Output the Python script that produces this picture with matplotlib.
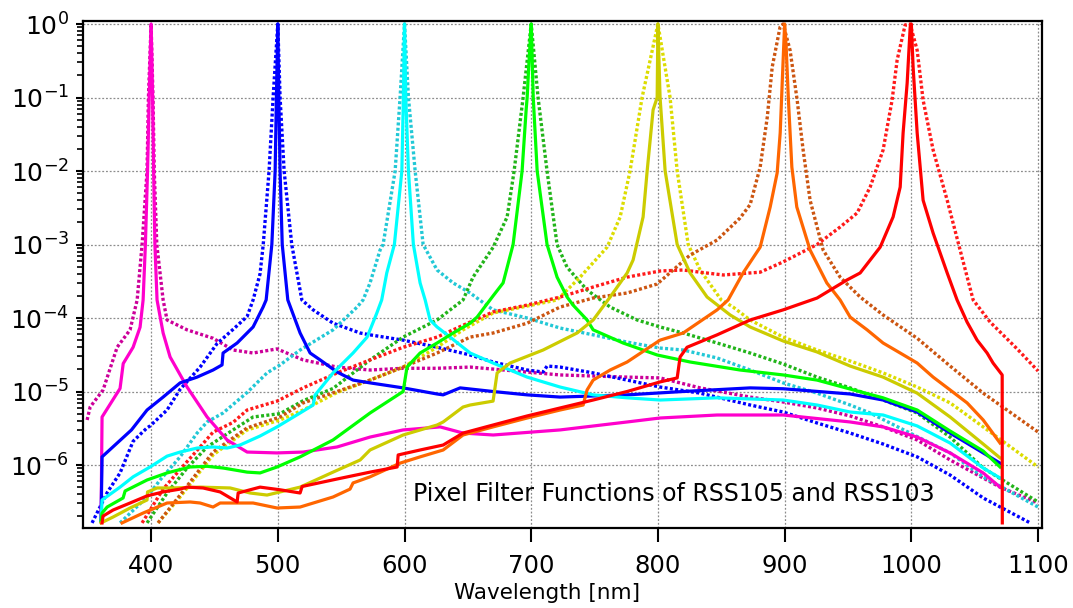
#!/usr/bin/env python3

# Pixel filter functions of RSS105 (solid) and RSS103 (dotted),
# read off the reference picture: (wavelength [nm], transmission) pairs.
import matplotlib
matplotlib.use("Agg")
import matplotlib.pyplot as plt
from matplotlib.ticker import LogLocator, NullFormatter

# --- RSS105 (solid lines) ---
m105 = [(360.5, 1.7e-7), (361.3, 4.5e-6), (375.5, 1.1e-5), (378.0, 2.4e-5), (385.8, 4.0e-5),
        (391.3, 7.5e-5), (393.7, 1.76e-4), (395.5, 1.0e-3), (397.2, 1.0e-2), (398.5, 0.1),
        (400.0, 1.0), (401.2, 0.1), (402.0, 1.0e-2), (403.0, 1.0e-3), (404.7, 1.76e-4),
        (409.5, 6.25e-5), (415.0, 2.95e-5), (428.4, 1.15e-5), (444.2, 4.5e-6), (460.0, 2.19e-6),
        (475.8, 1.5e-6), (499.4, 1.46e-6), (520.0, 1.5e-6), (546.8, 1.76e-6), (572.8, 2.4e-6),
        (598.9, 3.0e-6), (628.1, 3.3e-6), (646.2, 2.72e-6), (670.0, 2.56e-6), (722.8, 3.0e-6),
        (775.7, 3.85e-6), (801.7, 4.36e-6), (846.7, 4.79e-6), (898.8, 4.79e-6), (951.7, 3.85e-6),
        (977.7, 3.3e-6), (1004.6, 2.4e-6), (1030.6, 1.46e-6), (1056.7, 7.8e-7), (1070.0, 5.0e-7)]

b105 = [(360.5, 1.7e-7), (361.3, 1.29e-6), (384.5, 3.0e-6), (396.8, 5.6e-6), (409.5, 8.4e-6),
        (422.9, 1.31e-5), (436.3, 1.57e-5), (448.9, 1.96e-5), (456.0, 2.3e-5), (456.8, 3.34e-5),
        (467.9, 4.57e-5), (480.5, 7.55e-5), (488.4, 1.41e-4), (490.8, 1.76e-4), (495.3, 1.0e-3),
        (497.9, 1.0e-2), (498.9, 0.1), (500.0, 1.0), (500.8, 0.1), (501.8, 1.0e-2),
        (503.5, 1.0e-3), (507.9, 1.76e-4), (517.6, 6.25e-5), (525.5, 3.34e-5), (533.4, 2.69e-5),
        (546.8, 1.84e-5), (559.4, 1.43e-5), (572.8, 1.31e-5), (598.9, 1.12e-5), (625.7, 9.25e-6),
        (630.5, 9.0e-6), (643.9, 1.12e-5), (669.9, 1.0e-5), (696.8, 9.0e-6), (722.8, 8.4e-6),
        (775.7, 9.0e-6), (819.9, 1.0e-5), (872.8, 1.12e-5), (898.8, 1.09e-5), (951.7, 9.25e-6),
        (977.7, 7.66e-6), (1004.6, 5.26e-6), (1030.6, 2.72e-6), (1056.7, 1.46e-6), (1070.0, 1.06e-6)]

c105 = [(360.5, 1.7e-7), (361.3, 3.34e-7), (375.5, 5.0e-7), (385.8, 6.9e-7), (399.2, 9.4e-7),
        (412.6, 1.32e-6), (422.9, 1.5e-6), (436.3, 1.7e-6), (448.9, 1.76e-6), (460.0, 1.7e-6),
        (470.2, 1.87e-6), (486.0, 2.48e-6), (499.4, 3.3e-6), (517.6, 5.1e-6), (527.9, 6.55e-6),
        (529.4, 8.95e-6), (543.6, 1.79e-5), (559.4, 3.34e-5), (570.5, 5.5e-5), (578.0, 1.15e-4),
        (582.0, 1.76e-4), (586.0, 4.1e-4), (592.0, 1.0e-3), (597.9, 1.0e-2), (599.1, 0.1),
        (600.0, 1.0), (601.0, 0.1), (603.1, 1.0e-2), (607.0, 1.0e-3), (612.3, 3.0e-4),
        (616.3, 1.76e-4), (620.2, 9.4e-5), (625.7, 7.55e-5), (636.0, 5.5e-5), (651.8, 3.34e-5),
        (669.9, 2.44e-5), (696.8, 1.57e-5), (722.8, 1.15e-5), (748.9, 9.0e-6), (775.7, 8.2e-6),
        (801.7, 7.66e-6), (846.7, 8.2e-6), (898.8, 7.66e-6), (925.6, 6.55e-6), (951.7, 5.26e-6),
        (977.7, 4.79e-6), (1004.6, 3.4e-6), (1030.6, 1.99e-6), (1056.7, 9.1e-7), (1070.0, 6.65e-7)]

g105 = [(360.5, 1.7e-7), (361.3, 2.22e-7), (365.3, 2.68e-7), (377.9, 3.56e-7), (379.5, 4.43e-7),
        (396.8, 6.25e-7), (412.6, 7.8e-7), (430.8, 9.4e-7), (444.2, 9.6e-7), (456.8, 9.1e-7),
        (475.8, 8.0e-7), (486.0, 7.8e-7), (499.4, 9.4e-7), (517.6, 1.29e-6), (543.6, 2.19e-6),
        (572.8, 5.1e-6), (598.9, 1.0e-5), (602.0, 2.15e-5), (612.3, 3.34e-5), (625.7, 4.57e-5),
        (638.4, 6.25e-5), (651.8, 8.5e-5), (657.3, 1.03e-4), (669.9, 2.0e-4), (677.8, 3.0e-4),
        (685.7, 1.0e-3), (692.8, 1.0e-2), (696.0, 6.8e-2), (696.8, 0.1), (698.3, 0.32),
        (700.0, 1.0), (701.6, 0.1), (704.7, 1.0e-2), (712.5, 1.0e-3), (720.4, 3.6e-4),
        (728.3, 1.93e-4), (733.0, 1.5e-4), (744.1, 9.4e-5), (748.9, 6.9e-5), (772.5, 4.57e-5),
        (799.4, 3.14e-5), (825.4, 2.52e-5), (864.9, 1.96e-5), (898.8, 1.68e-5), (925.6, 1.43e-5),
        (951.7, 1.08e-5), (977.7, 8.2e-6), (1004.6, 5.6e-6), (1030.6, 2.9e-6), (1056.7, 1.55e-6),
        (1070.0, 9.4e-7)]

y105 = [(360.5, 1.63e-7), (370.0, 1.96e-7), (383.4, 2.6e-7), (396.8, 3.34e-7), (397.2, 4.3e-7),
        (404.7, 4.87e-7), (417.4, 4.87e-7), (438.7, 5.0e-7), (462.4, 4.87e-7), (478.1, 4.16e-7),
        (491.5, 3.9e-7), (501.8, 4.3e-7), (517.6, 5.0e-7), (543.6, 8.0e-7), (565.0, 1.17e-6),
        (572.8, 1.6e-6), (598.9, 2.56e-6), (625.7, 3.5e-6), (630.5, 3.85e-6), (646.2, 6.15e-6),
        (651.8, 6.55e-6), (669.9, 7.4e-6), (673.1, 1.79e-5), (683.3, 2.44e-5), (709.4, 3.67e-5),
        (736.2, 6.25e-5), (748.9, 9.4e-5), (762.3, 1.93e-4), (775.7, 4.1e-4), (780.4, 6.15e-4),
        (788.3, 2.37e-3), (791.5, 1.0e-2), (796.2, 6.8e-2), (799.4, 0.1), (800.0, 1.0),
        (801.7, 0.1), (805.7, 1.0e-2), (815.2, 1.0e-3), (825.4, 4.1e-4), (838.8, 1.93e-4),
        (857.0, 1.1e-4), (872.8, 7.55e-5), (898.8, 4.87e-5), (925.6, 3.45e-5), (951.7, 2.22e-5),
        (977.7, 1.57e-5), (1004.6, 9.5e-6), (1030.6, 4.5e-6), (1056.7, 1.93e-6), (1070.0, 1.25e-6)]

o105 = [(377.1, 1.63e-7), (393.7, 2.22e-7), (412.6, 3.04e-7), (430.8, 3.14e-7), (438.7, 3.04e-7),
        (448.9, 2.68e-7), (454.5, 3.04e-7), (480.5, 3.04e-7), (499.4, 2.6e-7), (517.6, 2.68e-7),
        (543.6, 3.67e-7), (557.0, 4.7e-7), (559.4, 5.7e-7), (572.8, 6.9e-7), (596.5, 1.06e-6),
        (612.3, 1.29e-6), (630.5, 1.6e-6), (646.2, 2.56e-6), (669.9, 3.3e-6), (696.8, 4.36e-6),
        (722.8, 5.6e-6), (741.0, 6.55e-6), (744.1, 1.05e-5), (748.9, 1.43e-5), (762.3, 1.96e-5),
        (775.7, 2.52e-5), (801.7, 5.0e-5), (819.9, 6.25e-5), (846.7, 1.29e-4), (855.4, 1.76e-4),
        (867.2, 4.1e-4), (880.7, 9.2e-4), (888.6, 3.24e-3), (894.1, 9.4e-3), (896.5, 3.3e-2),
        (898.6, 0.26), (900.0, 1.0), (901.2, 0.5), (903.0, 9.2e-2), (905.7, 1.13e-2),
        (909.6, 3.24e-3), (920.1, 8.4e-4), (933.3, 3.0e-4), (943.8, 1.76e-4), (951.7, 1.03e-4),
        (965.1, 6.9e-5), (977.7, 4.57e-5), (991.2, 3.34e-5), (1004.6, 2.44e-5), (1017.2, 1.57e-5),
        (1030.6, 1.05e-5), (1044.0, 7.0e-6), (1056.7, 4.1e-6), (1070.0, 1.99e-6)]

r105 = [(361.3, 1.63e-7), (362.1, 2.02e-7), (370.0, 2.44e-7), (383.4, 3.04e-7), (396.8, 3.8e-7),
        (409.5, 4.3e-7), (422.9, 4.7e-7), (428.4, 5.0e-7), (441.0, 4.87e-7), (454.5, 4.3e-7),
        (467.9, 3.14e-7), (468.7, 4.16e-7), (486.0, 5.0e-7), (501.8, 4.6e-7), (517.6, 4.16e-7),
        (519.2, 5.1e-7), (546.8, 6.45e-7), (572.8, 8.0e-7), (594.2, 9.4e-7), (595.0, 1.37e-6),
        (612.3, 1.6e-6), (630.5, 1.87e-6), (646.2, 2.72e-6), (669.9, 3.5e-6), (696.8, 4.65e-6),
        (722.8, 5.97e-6), (748.9, 7.66e-6), (775.7, 1.0e-5), (801.7, 1.35e-5), (815.2, 1.53e-5),
        (817.5, 2.95e-5), (823.0, 4.0e-5), (846.7, 5.9e-5), (872.8, 9.4e-5), (898.8, 1.29e-4),
        (925.6, 1.87e-4), (949.3, 3.3e-4), (959.6, 4.1e-4), (975.4, 9.2e-4), (985.6, 2.37e-3),
        (991.2, 6.05e-3), (993.5, 3.3e-2), (996.7, 0.157), (999.1, 0.91), (1000.0, 1.0),
        (1001.4, 0.26), (1004.6, 3.3e-2), (1009.3, 4.0e-3), (1017.2, 1.43e-3), (1028.3, 4.1e-4),
        (1036.1, 1.76e-4), (1044.0, 8.8e-5), (1051.9, 5.0e-5), (1059.8, 3.34e-5), (1064.5, 2.44e-5),
        (1071.7, 1.68e-5), (1071.8, 1.63e-7)]

# --- RSS103 (dotted lines) ---
m103 = [(349.5, 4.1e-6), (351.9, 6.15e-6), (362.1, 1.05e-5), (373.2, 4.0e-5), (383.4, 6.9e-5),
        (389.0, 1.76e-4), (392.9, 1.0e-3), (396.8, 1.0e-2), (397.9, 0.1), (400.0, 1.0),
        (401.5, 0.1), (402.5, 1.0e-2), (404.5, 1.0e-3), (409.5, 1.76e-4), (412.6, 9.4e-5),
        (428.4, 6.9e-5), (448.9, 5.3e-5), (464.7, 3.67e-5), (480.5, 3.34e-5), (499.4, 3.8e-5),
        (520.0, 2.69e-5), (546.8, 2.15e-5), (572.8, 1.96e-5), (598.9, 2.07e-5), (625.7, 2.07e-5),
        (651.8, 2.15e-5), (696.8, 1.84e-5), (722.8, 1.68e-5), (775.7, 1.57e-5), (801.7, 1.53e-5),
        (833.3, 1.12e-5), (872.8, 8.4e-6), (898.8, 7.2e-6), (925.6, 5.97e-6), (951.7, 4.65e-6),
        (977.7, 3.3e-6), (1004.6, 2.19e-6), (1030.6, 1.17e-6), (1056.7, 6.65e-7), (1070.0, 5.0e-7),
        (1100.0, 3.04e-7)]

b103 = [(353.4, 1.63e-7), (365.3, 4.2e-7), (375.5, 7.8e-7), (385.8, 2.1e-6), (391.3, 2.6e-6),
        (396.8, 3.2e-6), (399.2, 3.4e-6), (412.6, 5.6e-6), (422.9, 1.07e-5), (438.7, 2.15e-5),
        (452.1, 4.5e-5), (464.7, 7.0e-5), (475.8, 1.05e-4), (480.5, 1.76e-4), (486.0, 4.0e-4),
        (488.5, 1.0e-3), (493.1, 1.0e-2), (496.3, 0.1), (500.0, 1.0), (501.8, 0.1),
        (505.0, 1.0e-2), (511.0, 1.0e-3), (519.0, 1.76e-4), (527.9, 1.29e-4), (543.6, 8.5e-5),
        (565.0, 6.25e-5), (572.8, 5.9e-5), (598.9, 5.0e-5), (625.7, 4.0e-5), (651.8, 3.14e-5),
        (669.9, 2.52e-5), (696.8, 1.96e-5), (709.4, 1.84e-5), (712.5, 2.22e-5), (722.8, 2.15e-5),
        (748.9, 1.79e-5), (775.7, 1.43e-5), (801.7, 1.15e-5), (833.3, 9.5e-6), (872.8, 6.55e-6),
        (898.8, 5.26e-6), (925.6, 3.73e-6), (951.7, 2.72e-6), (977.7, 1.93e-6), (1004.6, 1.29e-6),
        (1030.6, 7.3e-7), (1056.7, 3.56e-7), (1093.8, 1.63e-7)]

c103 = [(375.5, 1.63e-7), (396.8, 3.67e-7), (407.1, 6.25e-7), (422.9, 1.29e-6), (436.3, 2.72e-6),
        (444.2, 3.85e-6), (456.8, 5.1e-6), (475.8, 9.7e-6), (491.5, 1.79e-5), (501.8, 2.3e-5),
        (517.6, 3.67e-5), (543.6, 6.9e-5), (562.6, 1.41e-4), (567.3, 1.76e-4), (572.8, 3.0e-4),
        (580.7, 8.4e-4), (583.1, 1.0e-3), (592.6, 1.0e-2), (596.5, 0.1), (600.0, 1.0),
        (603.1, 0.1), (608.4, 1.0e-2), (614.7, 1.0e-3), (625.7, 4.5e-4), (638.4, 3.0e-4),
        (651.8, 2.19e-4), (669.9, 1.29e-4), (696.8, 1.0e-4), (722.8, 7.3e-5), (748.9, 5.9e-5),
        (775.7, 4.7e-5), (801.7, 3.9e-5), (819.9, 3.67e-5), (846.7, 2.86e-5), (872.8, 1.96e-5),
        (898.8, 1.31e-5), (925.6, 9.5e-6), (951.7, 6.55e-6), (967.5, 5.1e-6), (999.0, 2.72e-6),
        (1030.6, 1.46e-6), (1056.7, 6.9e-7), (1100.0, 2.68e-7)]

g103 = [(396.8, 1.63e-7), (412.6, 4.16e-7), (428.4, 9.1e-7), (444.2, 1.76e-6), (464.7, 3.0e-6),
        (480.5, 4.5e-6), (501.8, 5.0e-6), (520.0, 7.5e-6), (543.6, 1.1e-5), (572.8, 2.69e-5),
        (598.9, 5.5e-5), (625.7, 9.4e-5), (646.2, 1.76e-4), (654.1, 3.6e-4), (670.0, 9.2e-4),
        (681.0, 2.37e-3), (686.5, 1.0e-2), (693.6, 0.1), (700.0, 1.0), (705.4, 0.1),
        (712.5, 1.0e-2), (720.4, 1.0e-3), (728.3, 4.9e-4), (744.1, 2.4e-4), (762.3, 1.41e-4),
        (783.6, 9.4e-5), (801.7, 7.55e-5), (819.9, 6.25e-5), (846.7, 4.57e-5), (872.8, 3.34e-5),
        (898.8, 2.37e-5), (925.6, 1.57e-5), (951.7, 1.12e-5), (977.7, 7.66e-6), (1004.6, 5.1e-6),
        (1030.6, 2.4e-6), (1056.7, 9.1e-7), (1100.0, 3.14e-7)]

y103 = [(405.5, 1.63e-7), (422.9, 3.67e-7), (448.9, 1.37e-6), (475.8, 3.0e-6), (501.8, 4.1e-6),
        (520.0, 5.6e-6), (546.8, 9.7e-6), (572.8, 1.43e-5), (598.9, 2.15e-5), (625.7, 4.0e-5),
        (646.2, 6.9e-5), (669.9, 1.17e-4), (720.4, 1.76e-4), (738.6, 3.6e-4), (759.9, 9.2e-4),
        (770.2, 2.37e-3), (778.0, 1.0e-2), (787.5, 0.1), (800.0, 1.0), (809.6, 0.1),
        (815.2, 1.0e-2), (823.9, 1.0e-3), (833.3, 4.5e-4), (850.0, 1.76e-4), (859.3, 1.41e-4),
        (872.8, 9.4e-5), (898.8, 5.5e-5), (925.6, 3.67e-5), (951.7, 2.6e-5), (977.7, 1.79e-5),
        (1004.6, 1.15e-5), (1030.6, 7.0e-6), (1056.7, 3.3e-6), (1100.0, 9.4e-7)]

o103 = [(405.5, 1.63e-7), (422.9, 3.9e-7), (448.9, 1.5e-6), (475.8, 3.2e-6), (501.8, 4.5e-6),
        (520.0, 7.0e-6), (546.8, 1.0e-5), (572.8, 1.43e-5), (598.9, 2.15e-5), (625.7, 3.34e-5),
        (651.8, 5.5e-5), (669.9, 6.25e-5), (696.8, 8.5e-5), (722.8, 1.41e-4), (748.9, 1.87e-4),
        (775.7, 2.19e-4), (799.4, 2.9e-4), (812.0, 4.5e-4), (825.4, 7.2e-4), (846.7, 1.15e-3),
        (864.9, 2.3e-3), (872.8, 3.5e-3), (880.7, 1.13e-2), (886.3, 5.4e-2), (890.2, 0.26),
        (896.4, 0.91), (898.8, 1.0), (904.3, 0.44), (909.9, 9.2e-2), (914.6, 1.93e-2),
        (920.1, 4.0e-3), (930.4, 8.4e-4), (943.8, 3.6e-4), (959.6, 1.93e-4), (977.7, 1.1e-4),
        (1004.6, 5.3e-5), (1030.6, 2.22e-5), (1056.7, 9.5e-6), (1100.0, 2.81e-6)]

r103 = [(392.9, 1.63e-7), (409.5, 4.7e-7), (422.9, 8.7e-7), (438.7, 1.76e-6), (448.9, 2.8e-6),
        (464.7, 3.8e-6), (475.8, 5.6e-6), (499.4, 7.4e-6), (520.0, 1.12e-5), (546.8, 1.79e-5),
        (572.8, 2.69e-5), (598.9, 4.0e-5), (625.7, 5.5e-5), (651.8, 8.8e-5), (669.9, 1.21e-4),
        (696.8, 1.5e-4), (722.8, 1.93e-4), (748.9, 2.64e-4), (775.7, 3.6e-4), (801.7, 4.36e-4),
        (819.9, 4.5e-4), (833.3, 4.2e-4), (851.5, 3.85e-4), (880.7, 4.2e-4), (898.8, 5.8e-4),
        (925.6, 1.0e-3), (943.8, 1.73e-3), (957.2, 2.68e-3), (967.5, 6.05e-3), (977.7, 1.93e-2),
        (984.8, 9.2e-2), (988.8, 0.324), (995.1, 0.97), (999.0, 1.0), (1004.6, 0.44),
        (1009.3, 9.2e-2), (1017.2, 1.93e-2), (1028.3, 4.0e-3), (1038.5, 8.4e-4), (1048.8, 1.76e-4),
        (1062.2, 8.8e-5), (1083.5, 3.8e-5), (1100.0, 1.9e-5)]

title_text = "Pixel Filter Functions of RSS105 and RSS103"


def main():
    fig = plt.figure(figsize=(10.73, 6.08), dpi=100)
    ax = fig.add_axes([0.0774, 0.1316, 0.8938, 0.8339])

    # dotted (RSS103) first, solid (RSS105) on top
    dotted = [(m103, "#cc0099"), (b103, "#0000ff"), (c103, "#22c8d6"), (g103, "#22b41a"),
              (y103, "#dcdc00"), (o103, "#cc5511"), (r103, "#ff1a1a")]
    solid = [(m105, "#ff00cc"), (b105, "#0000ff"), (c105, "#00ffff"), (g105, "#00ff00"),
             (y105, "#cccc00"), (o105, "#ff6600"), (r105, "#ff0000")]

    for curve, col in dotted:
        x, y = zip(*curve)
        ax.plot(x, y, color=col, lw=2.4, linestyle=(0, (0.9, 0.7)), solid_capstyle="butt")
    for curve, col in solid:
        x, y = zip(*curve)
        ax.plot(x, y, color=col, lw=2.3, solid_joinstyle="round")

    ax.set_yscale("log")
    ax.set_xlim(346.3, 1103.2)
    ax.set_ylim(1.39e-7, 1.1)
    ax.set_xticks(range(400, 1101, 100))
    ax.yaxis.set_major_locator(LogLocator(base=10, numticks=12))
    ax.yaxis.set_minor_locator(LogLocator(base=10, subs=range(2, 10), numticks=12))
    ax.yaxis.set_minor_formatter(NullFormatter())

    ax.grid(True, which="major", color="#8c8c8c", linestyle=(0, (1.5, 1.5)), linewidth=0.9)
    ax.tick_params(axis="x", which="major", direction="out", length=10, width=1.5,
                   labelsize=17.5, pad=8.5)
    ax.tick_params(axis="y", which="major", direction="out", length=5, width=1.5,
                   labelsize=18, pad=5)
    ax.tick_params(axis="y", which="minor", direction="out", length=4, width=1.2)
    for sp in ax.spines.values():
        sp.set_linewidth(1.6)

    ax.set_xlabel("Wavelength [nm]", fontsize=15.5)
    ax.xaxis.set_label_coords(0.484, -0.108)

    ax.text(606.8, 4.0e-7, title_text, fontsize=17, ha="left", va="center")

    fig.savefig("out.png", dpi=100)


if __name__ == '__main__':
    main()
